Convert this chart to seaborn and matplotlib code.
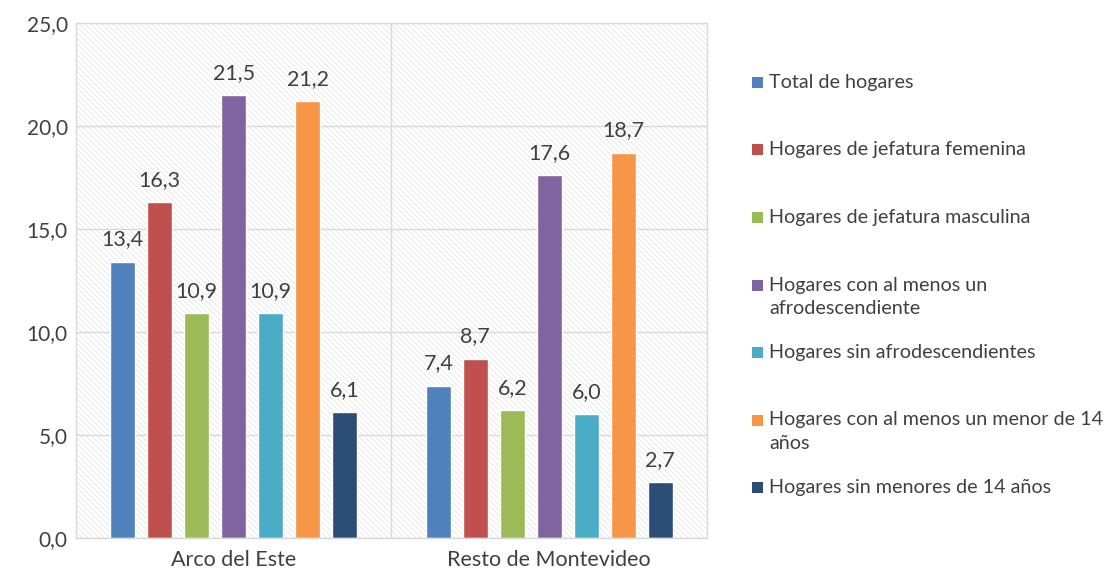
import pandas as pd
import matplotlib
matplotlib.use("Agg")
import matplotlib.pyplot as plt
from matplotlib.patches import Rectangle
import seaborn as sns

zonas = ["Arco del Este", "Resto de Montevideo"]
grupos = [
    "Total de hogares",
    "Hogares de jefatura femenina",
    "Hogares de jefatura masculina",
    "Hogares con al menos un\nafrodescendiente",
    "Hogares sin afrodescendientes",
    "Hogares con al menos un menor de 14\naños",
    "Hogares sin menores de 14 años",
]
arco = [13.4, 16.3, 10.9, 21.5, 10.9, 21.2, 6.1]
resto = [7.4, 8.7, 6.2, 17.6, 6.0, 18.7, 2.7]
colores = ["#4F81BD", "#C0504D", "#9BBB59", "#8064A2", "#4BACC6", "#F79646", "#2C4D75"]

rows = []
for g, a, r in zip(grupos, arco, resto):
    rows.append({"zona": zonas[0], "grupo": g, "valor": a})
    rows.append({"zona": zonas[1], "grupo": g, "valor": r})
df = pd.DataFrame(rows)

sns.set_style("white")
plt.rcParams["font.family"] = ["Lato", "DejaVu Sans"]
plt.rcParams["hatch.linewidth"] = 0.5

W, H = 1105, 579
fig = plt.figure(figsize=(W / 100, H / 100), dpi=100)
ax = fig.add_axes([76 / W, 1 - 538 / H, 631 / W, 515 / H])

# fondo rayado
ax.patch.set_facecolor("white")
ax.patch.set_edgecolor("#e2e2e2")
ax.patch.set_hatch("\\" * 6)
ax.patch.set_linewidth(0)

sns.barplot(data=df, x="zona", y="valor", hue="grupo", hue_order=grupos,
            palette=colores, width=0.82, gap=0.32, saturation=1, ax=ax, legend=False)

for cont in ax.containers:
    ax.bar_label(cont, labels=[f"{b.get_height():.1f}".replace(".", ",") for b in cont],
                 padding=9, fontsize=15.5, color="#404040")

ax.set_ylim(0, 25)
ax.set_xlim(-0.5, 1.5)
ax.set_yticks([0, 5, 10, 15, 20, 25])
ax.set_yticklabels([f"{v:.1f}".replace(".", ",") for v in [0, 5, 10, 15, 20, 25]])
ax.yaxis.grid(True, color="#d9d9d9", linewidth=1)
ax.axvline(0.5, color="#d9d9d9", linewidth=1, zorder=0.5)
ax.set_axisbelow(True)
ax.tick_params(axis="both", length=0, labelsize=15, labelcolor="#404040")
ax.tick_params(axis="x", pad=9, labelsize=15.5)
ax.tick_params(axis="y", pad=6)
ax.set_xlabel("")
ax.set_ylabel("")
for s in ax.spines.values():
    s.set_color("#d9d9d9")
    s.set_linewidth(1)

# leyenda a la derecha, una entrada cada ~67 px
y0 = 83
paso = 67.5
for i, (g, c) in enumerate(zip(grupos, colores)):
    yc = y0 + i * paso
    fig.patches.append(Rectangle((752 / W, 1 - (yc + 5) / H), 11 / W, 11 / H,
                                 transform=fig.transFigure, facecolor=c,
                                 edgecolor="none"))
    fig.text(769 / W, 1 - (yc - 9) / H, g, ha="left", va="top",
             fontsize=14.2, color="#404040", linespacing=1.45)

fig.savefig("out.png", dpi=100)
